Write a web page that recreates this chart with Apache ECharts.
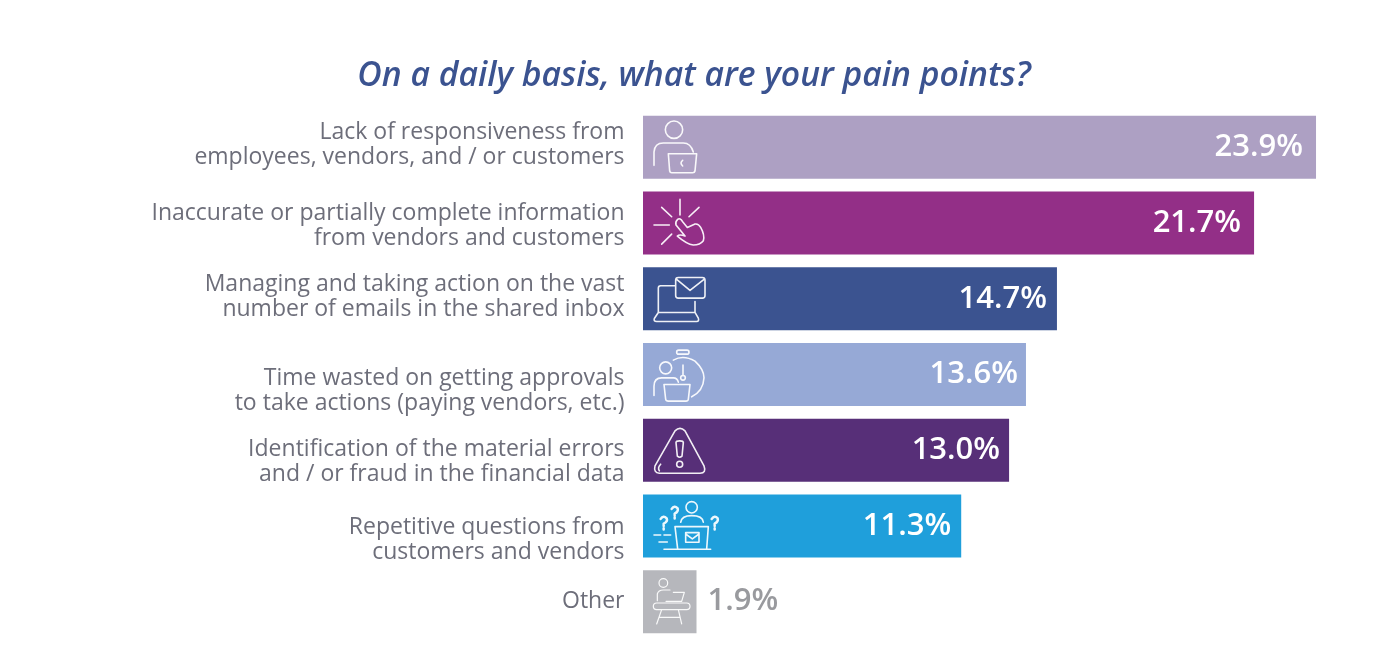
<!DOCTYPE html>
<html>
<head>
<meta charset="utf-8">
<style>html,body{margin:0;padding:0;background:#fff}#c{width:1376px;height:648px}</style>
<script src="https://cdn.jsdelivr.net/npm/echarts@6/dist/echarts.min.js"></script>
</head>
<body>
<div id="c"></div>
<script>
const chartTitle = 'On a daily basis, what are your pain points?';
const categories = [
  'Lack of responsiveness from\nemployees, vendors, and / or customers',
  'Inaccurate or partially complete information\nfrom vendors and customers',
  'Managing and taking action on the vast\nnumber of emails in the shared inbox',
  'Time wasted on getting approvals\nto take actions (paying vendors, etc.)',
  'Identification of the material errors\nand / or fraud in the financial data',
  'Repetitive questions from\ncustomers and vendors',
  'Other'
];
const values = [23.9, 21.7, 14.7, 13.6, 13.0, 11.3, 1.9];
const barColors = ['#ADA0C3', '#932F87', '#3B5390', '#96A9D6', '#572F78', '#1F9FDB', '#B6B7BC'];
const labelShifts = [-2, 3, -2, 16, 11.5, 14, -0.2];
const valueInsets = [13, 13, 10, 8, 9, 10, 11];

// Pictograms, drawn in a 3x grid relative to each bar's left end and middle
const icons = [
  {ox:-3, oy:-37, d:'M76 58a26 26 0 1 0 52 0a26 26 0 1 0 -52 0 M42 165L42 125Q44 98 70 98L130 98Q152 98 160 125 M85 130L170 130L165 182Q164 187 158 187L95 187Q90 187 89 182Z M128 150Q118 158 128 167'},
  {ox:-3, oy:-113, d:'M120 268L120 315 M65 292L95 320 M177 292L147 320 M42 345L88 345 M95 372L65 402 M113 328Q120 322 128 335L142 352L165 342Q175 340 182 352Q195 375 190 392Q180 405 160 405Q140 402 112 378Q118 372 135 378L108 345Q105 335 113 328Z'},
  {ox:-3, oy:-39, d:'M104 78L62 78Q55 78 55 85L55 158L165 158L165 125 M55 158L43 176Q40 185 50 185L170 185Q178 185 175 175L165 158 M115 53L187 53Q195 53 195 61L195 107Q195 115 187 115L115 115Q107 115 107 107L107 61Q107 53 115 53Z M109 58L150 92L193 58'},
  {ox:-3, oy:-115, d:'M116 272L141 272Q147 272 147 278Q147 284 141 284L116 284Q110 284 110 278Q110 272 116 272Z M100 302Q130 285 165 305Q192 330 192 355Q190 395 155 412 M129 317L129 348 M122 355a7 7 0 1 0 14 0a7 7 0 1 0 -14 0 M59 325a18 18 0 1 0 36 0a18 18 0 1 0 -36 0 M42 408L42 380Q42 355 65 355L100 355Q112 355 115 368 M72 375L150 375L145 419Q144 425 138 425L85 425Q78 425 77 419Z'},
  {ox:-3, oy:-36, d:'M105 50Q120 35 135 50L192 155Q200 177 180 177L58 177Q40 175 45 155Z M62 150Q52 160 58 170 M108 85Q108 80 119 80Q130 80 130 85L126 126Q119 132 112 126Z M110 150a9 9 0 1 0 18 0a9 9 0 1 0 -18 0'},
  {ox:-3, oy:-111, d:'M138 277a17 17 0 1 0 34 0a17 17 0 1 0 -34 0 M122 322Q125 302 155 302Q188 302 190 322 M113 402L105 335L205 335L200 402 M72 403L212 403 M137 353L177 353L177 382L137 382Z M138 358L157 372L176 358 M42 360L62 360 M72 360L92 360 M57 381L82 381',
   bold:'M62 312Q70 300 80 310Q84 320 71 326L71 333 M71 340L71 344 M95 282Q103 270 113 280Q116 290 104 296L104 302 M104 307L104 311 M215 312Q224 300 233 310Q236 320 224 326L224 333 M224 340L224 344'},
  {ox:-3, oy:-41, d:'M57 67a13 13 0 1 0 26 0a13 13 0 1 0 -26 0 M52 120L52 100Q55 88 70 88L90 88 M100 95L133 95L125 122L78 122 M50 127L140 127Q150 127 150 137Q150 147 140 147L50 147Q40 147 40 137Q40 127 50 127Z M65 147L50 190 M115 147L125 190 M58 170L120 170'}
];

const rich = {line: {fontFamily: 'Open Sans', fontSize: 23, color: '#6D6E7A', lineHeight: 25, align: 'right'}};
labelShifts.forEach((s, i) => {
  rich['sp' + i] = {fontSize: 1, lineHeight: Math.abs(s) * 2, color: 'transparent'};
});

const chart = echarts.init(document.getElementById('c'), null, {renderer: 'canvas'});
chart.setOption({
  animation: false,
  backgroundColor: '#fff',
  title: {
    text: chartTitle,
    left: 689,
    top: 54,
    textAlign: 'center',
    textStyle: {fontFamily: 'Open Sans', fontStyle: 'italic', fontWeight: 600, fontSize: 33.7, color: '#3B5390'}
  },
  grid: {left: 643, top: 109.5, width: 704, height: 530},
  xAxis: {type: 'value', min: 0, max: 25, show: false},
  yAxis: {
    type: 'category',
    inverse: true,
    data: categories,
    axisLine: {show: false},
    axisTick: {show: false},
    axisLabel: {
      interval: 0,
      margin: 18.5,
      align: 'right',
      rich: rich,
      formatter: (v, i) => {
        const body = v.split('\n').map(l => '{line|' + l + '}').join('\n');
        const sp = '{sp' + i + '| }';
        const s = labelShifts[i];
        return s > 0 ? sp + '\n' + body : body + '\n' + sp;
      }
    }
  },
  series: [
    {
      type: 'bar',
      barWidth: 63,
      data: values.map((v, i) => ({
        value: v,
        itemStyle: {color: barColors[i]},
        label: v < 5
          ? {position: 'right', distance: valueInsets[i], color: '#999A9E'}
          : {position: 'insideRight', distance: valueInsets[i], color: '#fff'}
      })),
      label: {
        show: true,
        fontFamily: 'Open Sans',
        fontWeight: 600,
        fontSize: 31,
        formatter: p => p.value.toFixed(1) + '%'
      }
    },
    {
      type: 'custom',
      z: 5,
      clip: false,
      silent: true,
      encode: {x: 0, y: 1},
      data: categories.map((c, i) => [0, i]),
      renderItem: (params, api) => {
        const p = api.coord([0, params.dataIndex]);
        const ic = icons[params.dataIndex];
        const part = (d, w) => ({
          type: 'path',
          scaleX: 1 / 3,
          scaleY: 1 / 3,
          shape: {pathData: d},
          style: {fill: 'none', stroke: '#fff', lineWidth: w, lineJoin: 'round', lineCap: 'round', opacity: 0.92}
        });
        const children = [part(ic.d, params.dataIndex === 6 ? 3.6 : 4.8)];
        if (ic.bold) children.push(part(ic.bold, 7.5));
        return {type: 'group', x: p[0] + ic.ox, y: p[1] + ic.oy, children};
      }
    }
  ]
});
</script>
</body>
</html>
